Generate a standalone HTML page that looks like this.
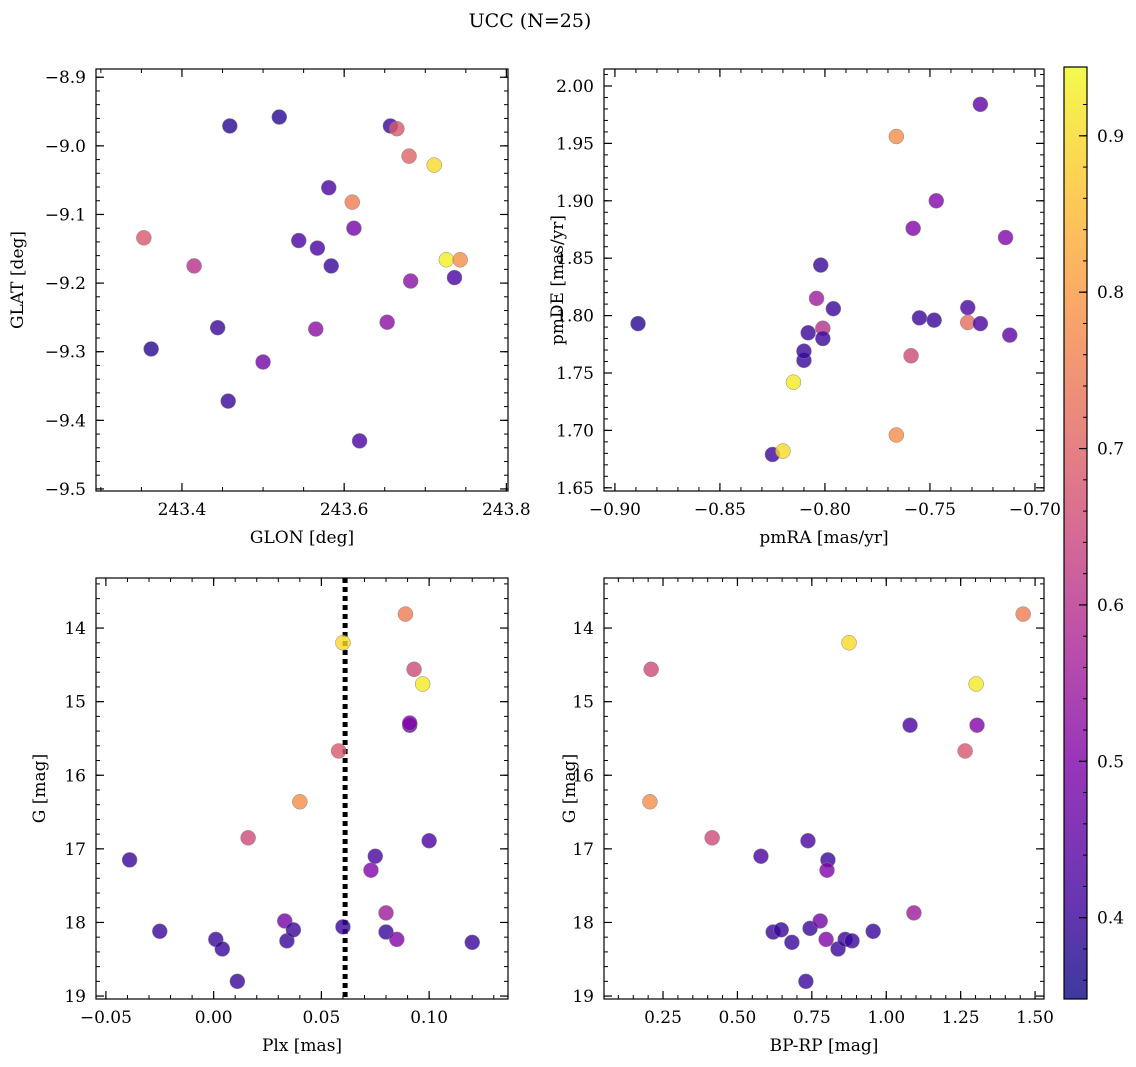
<!DOCTYPE html>
<html><head><meta charset="utf-8">
<style>
html,body{margin:0;padding:0;background:#fff;}
svg{display:block;font-family:"DejaVu Serif","Liberation Serif",serif;}
</style></head>
<body>
<svg id="fig" width="1136" height="1067" viewBox="0 0 1136 1067" xmlns="http://www.w3.org/2000/svg">
<text x="530" y="27" font-size="19" text-anchor="middle">UCC (N=25)</text>
</svg>
<script>
// ---- data (top-left: GLON vs GLAT) ----
const glonTL = [243.353,243.362,243.415,243.444,243.457,243.459,243.500,243.520,243.544,243.567,243.581,243.584,243.565,243.610,243.612,243.619,243.653,243.657,243.665,243.680,243.682,243.711,243.726,243.736,243.743];
const glatTL = [-9.134,-9.296,-9.175,-9.265,-9.372,-8.971,-9.315,-8.958,-9.138,-9.149,-9.061,-9.175,-9.267,-9.082,-9.120,-9.430,-9.257,-8.971,-8.975,-9.015,-9.197,-9.028,-9.166,-9.192,-9.166];
const probTL = [0.68,0.38,0.60,0.40,0.40,0.38,0.48,0.38,0.42,0.42,0.42,0.40,0.52,0.75,0.48,0.42,0.52,0.40,0.68,0.70,0.52,0.90,0.93,0.42,0.78];
// ---- top-right: pmRA vs pmDE ----
const pmraTR = [-0.889,-0.825,-0.820,-0.815,-0.810,-0.810,-0.808,-0.804,-0.802,-0.801,-0.801,-0.796,-0.766,-0.766,-0.758,-0.759,-0.755,-0.747,-0.748,-0.732,-0.732,-0.726,-0.726,-0.714,-0.712];
const pmdeTR = [1.793,1.679,1.682,1.742,1.761,1.769,1.785,1.815,1.844,1.789,1.780,1.806,1.956,1.696,1.876,1.765,1.798,1.900,1.796,1.807,1.794,1.984,1.793,1.868,1.783];
const probTR = [0.38,0.40,0.90,0.92,0.40,0.40,0.40,0.55,0.40,0.60,0.40,0.40,0.78,0.78,0.50,0.65,0.40,0.50,0.40,0.42,0.72,0.45,0.42,0.50,0.45];
// ---- bottom-left: Plx vs G ----
const plxBL = [-0.039,-0.025,0.001,0.004,0.011,0.016,0.033,0.034,0.037,0.040,0.058,0.060,0.060,0.073,0.075,0.080,0.080,0.085,0.089,0.091,0.091,0.093,0.097,0.100,0.120];
const gBL = [17.15,18.12,18.23,18.36,18.80,16.85,17.98,18.25,18.10,16.36,15.67,14.20,18.06,17.29,17.10,18.13,17.87,18.23,13.81,15.32,15.29,14.56,14.76,16.89,18.27];
const probBL = [0.40,0.40,0.40,0.40,0.40,0.65,0.48,0.40,0.40,0.78,0.68,0.90,0.40,0.50,0.42,0.40,0.55,0.50,0.75,0.45,0.50,0.65,0.92,0.42,0.40];
const plxLine = [0.061];
// ---- bottom-right: BP-RP vs G ----
const bprpBR = [0.206,0.210,0.415,0.579,0.620,0.647,0.683,0.730,0.737,0.744,0.778,0.798,0.804,0.801,0.838,0.862,0.885,0.875,0.956,1.080,1.093,1.265,1.302,1.305,1.460];
const gBR = [16.36,14.56,16.85,17.10,18.13,18.10,18.27,18.80,16.89,18.08,17.98,18.23,17.15,17.29,18.36,18.23,18.25,14.20,18.12,15.32,17.87,15.67,14.76,15.32,13.81];
const probBR = [0.78,0.65,0.65,0.42,0.40,0.40,0.40,0.40,0.42,0.40,0.48,0.50,0.40,0.50,0.40,0.40,0.40,0.90,0.40,0.42,0.55,0.68,0.92,0.50,0.75];
// ---- ticks ----
const ticksTLx = [243.4,243.6,243.8], ticksTLy = [-8.9,-9.0,-9.1,-9.2,-9.3,-9.4,-9.5];
const ticksTRx = [-0.90,-0.85,-0.80,-0.75,-0.70], ticksTRy = [1.65,1.70,1.75,1.80,1.85,1.90,1.95,2.00];
const ticksBLx = [-0.05,0.00,0.05,0.10], ticksGy = [14,15,16,17,18,19];
const ticksBRx = [0.25,0.50,0.75,1.00,1.25,1.50];
const ticksCB = [0.4,0.5,0.6,0.7,0.8,0.9];

const NS = "http://www.w3.org/2000/svg";
const svg = document.getElementById('fig');
function mk(tag, attrs, parent){const e=document.createElementNS(NS,tag);for(const k in attrs)e.setAttribute(k,attrs[k]);(parent||svg).appendChild(e);return e;}

const plasmaStops=[[0,[13,8,135]],[0.125,[75,3,161]],[0.25,[125,3,168]],[0.375,[168,34,150]],[0.5,[203,70,121]],[0.625,[229,107,93]],[0.75,[248,148,65]],[0.875,[253,195,40]],[1,[240,249,33]]];
function plasma(t){t=Math.max(0,Math.min(1,t));for(let i=1;i<plasmaStops.length;i++){if(t<=plasmaStops[i][0]){const a=plasmaStops[i-1],b=plasmaStops[i];const f=(t-a[0])/(b[0]-a[0]);const c=a[1].map((v,j)=>Math.round(v+(b[1][j]-v)*f));return `rgb(${c})`;}}return 'rgb(240,249,33)';}
const cmin=0.348,cmax=0.944;
const ALPHA=0.8;
const FS=17;
function cnorm(v){return (v-cmin)/(cmax-cmin);}

function panel(name,box,xr,yr,xt,yt,xmin,ymin,xdec,ydec,xlabel,ylabel,xs,ys,cs,vline){
  const [L,T,R,B]=box;
  const sx=v=>L+(v-xr[0])/(xr[1]-xr[0])*(R-L);
  const sy=v=>T+(v-yr[0])/(yr[1]-yr[0])*(B-T);
  const g=mk('g',{});
  
  
  const lo=Math.min(xr[0],xr[1]),hi=Math.max(xr[0],xr[1]);
  for(let v=Math.ceil(lo/xmin-1e-6)*xmin; v<=hi+1e-9; v+=xmin){const x=sx(v);mk('line',{x1:x,x2:x,y1:B,y2:B-4,stroke:'#000','stroke-width':1},g);mk('line',{x1:x,x2:x,y1:T,y2:T+4,stroke:'#000','stroke-width':1},g);}
  const ylo=Math.min(yr[0],yr[1]),yhi=Math.max(yr[0],yr[1]);
  for(let v=Math.ceil(ylo/ymin-1e-6)*ymin; v<=yhi+1e-9; v+=ymin){const y=sy(v);mk('line',{x1:L,x2:L+4,y1:y,y2:y,stroke:'#000','stroke-width':1},g);mk('line',{x1:R,x2:R-4,y1:y,y2:y,stroke:'#000','stroke-width':1},g);}
  xt.forEach(v=>{const x=sx(v);mk('line',{x1:x,x2:x,y1:B,y2:B-8,stroke:'#000','stroke-width':1.2},g);mk('line',{x1:x,x2:x,y1:T,y2:T+8,stroke:'#000','stroke-width':1.2},g);
    const t=mk('text',{x:x,y:B+24,'font-size':FS,'text-anchor':'middle'},g);t.textContent=v.toFixed(xdec).replace('-','\u2212');
    
    });
  yt.forEach(v=>{const y=sy(v);mk('line',{x1:L,x2:L+8,y1:y,y2:y,stroke:'#000','stroke-width':1.2},g);mk('line',{x1:R,x2:R-8,y1:y,y2:y,stroke:'#000','stroke-width':1.2},g);
    const t=mk('text',{x:L-10,y:y+6,'font-size':FS,'text-anchor':'end'},g);t.textContent=v.toFixed(ydec).replace('-','\u2212');
    
    });
  if(vline){vline.forEach(v=>{const l=mk('line',{x1:sx(v),x2:sx(v),y1:T,y2:B,stroke:'#000','stroke-width':5,'stroke-dasharray':'5 4'},g);
    
    });}
  xs.forEach((v,i)=>{const c=mk('circle',{cx:sx(v),cy:sy(ys[i]),r:7.5,fill:plasma(cnorm(cs[i])),'fill-opacity':ALPHA,stroke:'#888','stroke-width':0.5},g);
    
    });
  mk('rect',{x:L,y:T,width:R-L,height:B-T,fill:'none',stroke:'#000','stroke-width':1.2},g);
  const xl=mk('text',{x:(L+R)/2,y:B+52,'font-size':FS,'text-anchor':'middle'},g);xl.textContent=xlabel;
  
  
  const yl=mk('text',{x:0,y:0,'font-size':FS,'text-anchor':'middle',transform:`translate(${ylabel[1]},${(T+B)/2}) rotate(-90)`},g);yl.textContent=ylabel[0];
  
  
}
panel('glon-glat-panel',[96,69,508,491],[243.294,243.802],[-8.888,-9.503],ticksTLx,ticksTLy,0.05,0.02,1,1,'GLON [deg]',['GLAT [deg]',23],glonTL,glatTL,probTL);
panel('pm-panel',[604,69,1044,491],[-0.9052,-0.6957],[2.0148,1.6472],ticksTRx,ticksTRy,0.01,0.01,2,2,'pmRA [mas/yr]',['pmDE [mas/yr]',563],pmraTR,pmdeTR,probTR);
panel('plx-g-panel',[96,578,508,999],[-0.0546,0.1366],[13.32,19.04],ticksBLx,ticksGy,0.01,0.2,2,0,'Plx [mas]',['G [mag]',45],plxBL,gBL,probBL,plxLine);
panel('cmd-panel',[604,578,1044,999],[0.0517,1.530],[13.32,19.04],ticksBRx,ticksGy,0.05,0.2,2,0,'BP-RP [mag]',['G [mag]',575],bprpBR,gBR,probBR);

(function(){
  const L=1064,R=1087,T=67,B=999;
  const g=mk('g',{});
  
  
  const defs=mk('defs',{},g);
  const lg=mk('linearGradient',{id:'cbg',x1:0,y1:1,x2:0,y2:0},defs);
  for(let i=0;i<=20;i++){const t=i/20;mk('stop',{offset:t,'stop-color':plasma(t),'stop-opacity':ALPHA},lg);}
  mk('rect',{x:L,y:T,width:R-L,height:B-T,fill:'url(#cbg)'},g);
  const sy=v=>B-(v-cmin)/(cmax-cmin)*(B-T);
  for(let v=0.36;v<=0.94;v+=0.02){const y=sy(v);mk('line',{x1:R,x2:R-4,y1:y,y2:y,stroke:'#000','stroke-width':1},g);}
  ticksCB.forEach(v=>{const y=sy(v);mk('line',{x1:R,x2:R-8,y1:y,y2:y,stroke:'#000','stroke-width':1.2},g);
    const t=mk('text',{x:R+10,y:y+6,'font-size':FS},g);t.textContent=v.toFixed(1);
    
    });
  mk('rect',{x:L,y:T,width:R-L,height:B-T,fill:'none',stroke:'#000','stroke-width':1.2},g);
})();
</script>
</body></html>
